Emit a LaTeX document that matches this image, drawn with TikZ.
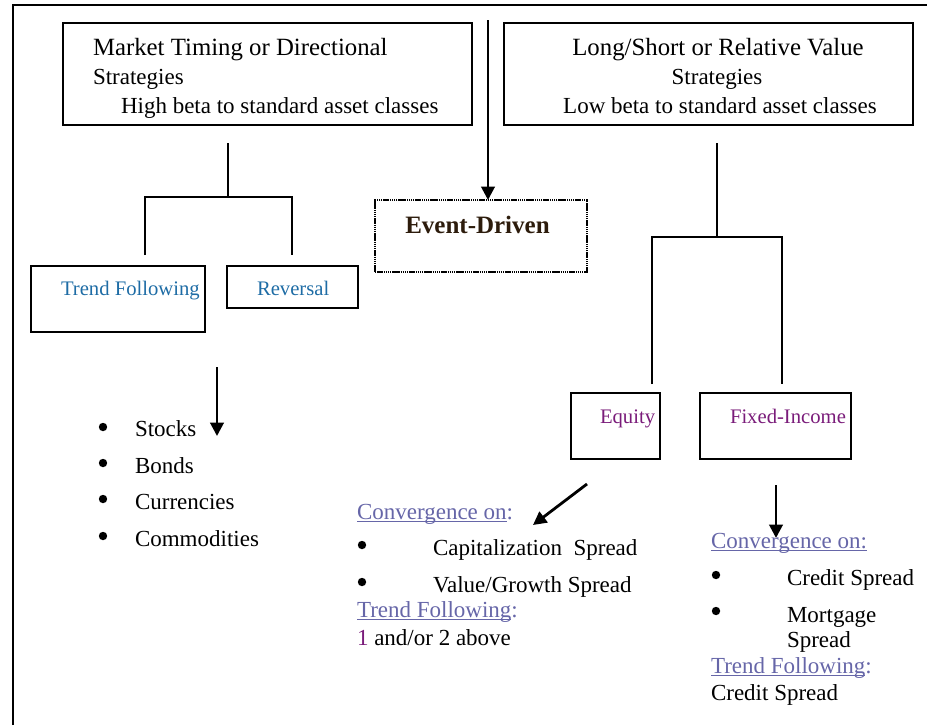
\documentclass[tikz,border=0pt]{standalone}
\usepackage{fontspec}
\setmainfont{Liberation Serif}
\usetikzlibrary{arrows.meta}
\definecolor{tfblue}{RGB}{30,108,165}
\definecolor{eqpurple}{RGB}{122,28,122}
\definecolor{convblue}{RGB}{102,102,168}
\definecolor{evbrown}{RGB}{45,28,12}
\newcommand\myul[1]{\setbox0\hbox{#1}\rlap{\rule[-2.4pt]{\wd0}{0.7pt}}#1}
\begin{document}
\begin{tikzpicture}[x=0.75pt,y=-0.75pt,
  box/.style={draw, line width=1.3pt, anchor=north west, inner sep=0pt, outer sep=0pt},
  evbox/.style={draw, line width=2.2pt, dash pattern=on 1.1pt off 0.5pt, anchor=north west, inner sep=0pt, outer sep=0pt},
  link/.style={line width=1.3pt},
  arr/.style={line width=2.1pt, -{Triangle[length=10pt,width=10pt]}},
  txt/.style={anchor=base west, inner sep=0pt, outer sep=0pt, font=\fontsize{17.25}{20}\selectfont},
  bigtxt/.style={inner sep=0pt, outer sep=0pt, font=\fontsize{18.6}{22}\selectfont},
  toptxt/.style={anchor=base, inner sep=0pt, outer sep=0pt, font=\fontsize{17.25}{20}\selectfont},
  lbl/.style={anchor=base west, inner sep=0pt, outer sep=0pt, font=\fontsize{15.5}{18}\selectfont},
  dot/.style={fill=black},
]
\useasboundingbox (0,0) rectangle (927,725);
% frame
\draw[line width=0.9pt] (13,725) -- (13,5) -- (927,5);

% top boxes
\node[box, minimum width=306.75pt, minimum height=76.5pt] (mt) at (63,23) {};
\node[bigtxt, anchor=base west] (mt1) at (93,55) {Market Timing or Directional};
\node[txt] (mt2) at (93,84) {Strategies};
\node[txt] (mt3) at (121,113) {High beta to standard asset classes};

\node[box, minimum width=306.75pt, minimum height=76.5pt] (ls) at (504,23) {};
\node[bigtxt, anchor=base] (ls1) at (718,55) {Long/Short or Relative Value};
\node[toptxt] (ls2) at (717,84) {Strategies};
\node[toptxt] (ls3) at (720,113) {Low beta to standard asset classes};

% event-driven
\coordinate (evtop) at (488,20);
\node[evbox, minimum width=159pt, minimum height=54pt] (ev) at (375,200) {};
\node[anchor=base west, inner sep=0pt, text=evbrown, font=\fontsize{18.75}{22}\selectfont\bfseries] (evt) at (405,233) {Event-Driven};
\draw[arr] (evtop) -- (ev.north -| evtop);

% left tree
\coordinate (lt) at (228,143);
\coordinate (lj) at (228,197);
\coordinate (la) at (145,255);
\coordinate (lak) at (145,197);
\coordinate (lbk) at (292,197);
\coordinate (lb) at (292,255);
\draw[link] (lt) -- (lj);
\draw[link] (la) -- (lak) -- (lbk) -- (lb);

\node[box, minimum width=130.5pt, minimum height=49.5pt] (tf) at (31,266) {};
\node[lbl, text=tfblue] (tft) at (61,295) {Trend Following};
\node[box, minimum width=98.25pt, minimum height=31.5pt] (rv) at (227,266) {};
\node[lbl, text=tfblue] (rvt) at (257,295) {Reversal};

% right tree
\coordinate (rt) at (717,143);
\coordinate (rj) at (717,237);
\coordinate (ra) at (652,384);
\coordinate (rak) at (652,237);
\coordinate (rbk) at (782,237);
\coordinate (rb) at (782,384);
\draw[link] (rt) -- (rj);
\draw[link] (ra) -- (rak) -- (rbk) -- (rb);

\node[box, minimum width=66.75pt, minimum height=49.5pt] (eq) at (571,393) {};
\node[lbl, text=eqpurple] (eqt) at (600,423) {Equity};
\node[box, minimum width=113.25pt, minimum height=49.5pt] (fi) at (700,393) {};
\node[lbl, text=eqpurple] (fit) at (730,423) {Fixed-Income};

% left list
\coordinate (a1s) at (217,367);
\coordinate (a1e) at (217,436);
\draw[arr] (a1s) -- (a1e);
\fill[dot] (103,427) circle (4.2);
\node[txt] (l1) at (135,436) {Stocks};
\fill[dot] (103,463) circle (4.2);
\node[txt] (l2) at (135,473) {Bonds};
\fill[dot] (103,499) circle (4.2);
\node[txt] (l3) at (135,509) {Currencies};
\fill[dot] (103,536) circle (4.2);
\node[txt] (l4) at (135,546) {Commodities};

% middle list
\coordinate (a2s) at (587,484);
\coordinate (a2e) at (533,525);
\draw[arr] (a2s) -- (a2e);
\node[txt] (m0) at (357,519) {\textcolor{convblue}{\myul{Convergence on}:}};
\fill[dot] (362,545) circle (4.2);
\node[txt] (m1) at (433,555) {Capitalization\ \ Spread};
\fill[dot] (362,582) circle (4.2);
\node[txt] (m2) at (433,592) {Value/Growth Spread};
\node[txt] (m3) at (357,617) {\textcolor{convblue}{\myul{Trend Following}:}};
\node[txt] (m4) at (357,645) {\textcolor{eqpurple}{1} and/or 2 above};

% right list
\coordinate (a3s) at (776,485);
\coordinate (a3e) at (776,538);
\draw[arr] (a3s) -- (a3e);
\node[txt] (r0) at (711,548) {\textcolor{convblue}{\myul{Convergence on:}}};
\fill[dot] (716,575) circle (4.2);
\node[txt] (r1) at (787,585) {Credit Spread};
\fill[dot] (716,611) circle (4.2);
\node[txt] (r2) at (787,622) {Mortgage};
\node[txt] (r2b) at (787,647) {Spread};
\node[txt] (r3) at (711,673) {\textcolor{convblue}{\myul{Trend Following}:}};
\node[txt] (r4) at (711,700) {Credit Spread};
\end{tikzpicture}
\end{document}
